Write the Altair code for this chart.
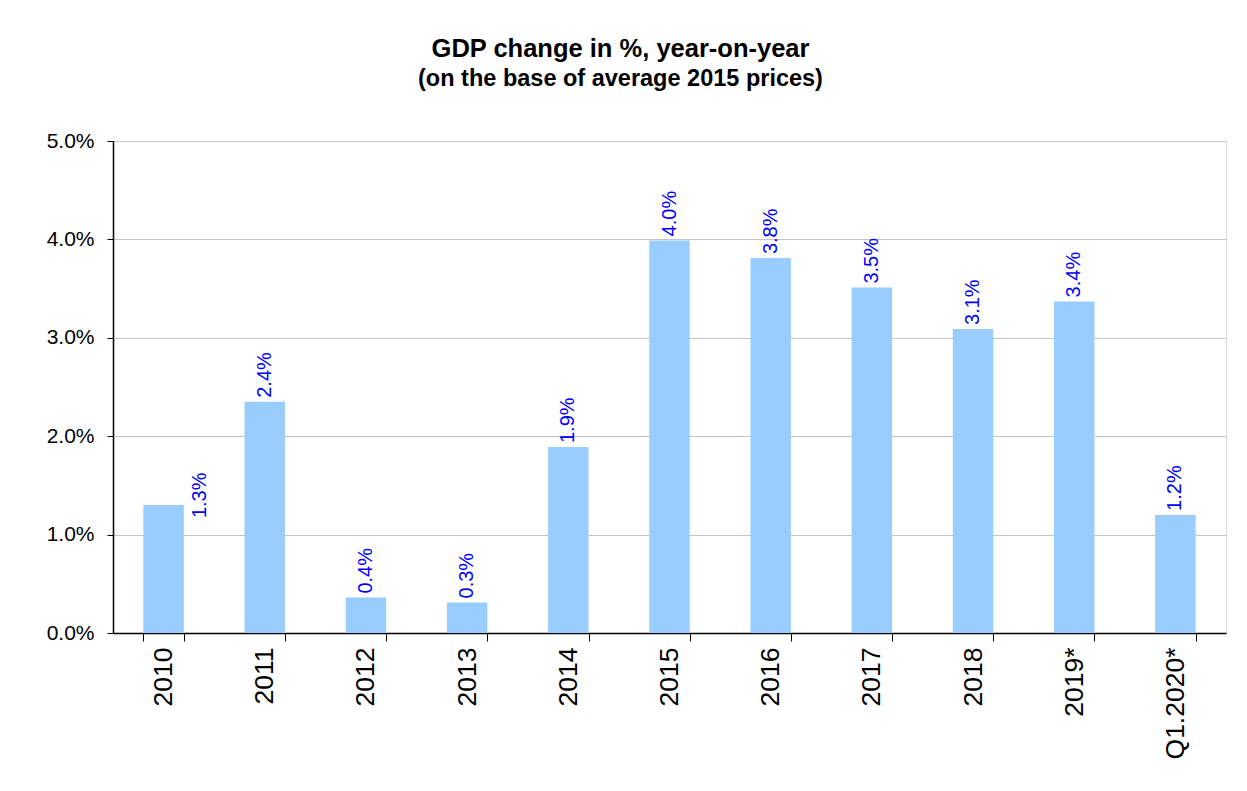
import altair as alt
import pandas as pd

categories = ["2010", "2011", "2012", "2013", "2014", "2015", "2016", "2017", "2018", "2019*", "Q1.2020*"]
values = [1.3, 2.35, 0.36, 0.31, 1.89, 3.99, 3.81, 3.51, 3.09, 3.37, 1.2]
labels = ["1.3%", "2.4%", "0.4%", "0.3%", "1.9%", "4.0%", "3.8%", "3.5%", "3.1%", "3.4%", "1.2%"]
y_ticks = [0, 0.01, 0.02, 0.03, 0.04, 0.05]

df = pd.DataFrame({
    "cat": categories,
    "val": [v / 100 for v in values],
    "label": labels,
})

FONT = "Liberation Sans"

x_enc = alt.X(
    "cat:N",
    sort=categories,
    scale=alt.Scale(paddingInner=0.6, paddingOuter=0.3),
    axis=alt.Axis(
        title=None,
        labelAngle=270,
        labelFontSize=26.5,
        labelFont=FONT,
        labelColor="black",
        labelPadding=6,
        tickBand="extent",
        tickSize=8,
        tickColor="black",
        domainColor="black",
        domainWidth=1.5,
        grid=False,
    ),
)
y_enc = alt.Y(
    "val:Q",
    scale=alt.Scale(domain=[0, 0.05], nice=False),
    axis=alt.Axis(
        title=None,
        values=y_ticks,
        format=".1%",
        labelFontSize=21,
        labelFont=FONT,
        labelColor="black",
        labelPadding=13,
        tickSize=6,
        tickColor="black",
        domainColor="black",
        domainWidth=1.5,
        gridColor="#c4c4c4",
        gridWidth=1,
    ),
)

base = alt.Chart(df)

bars = base.mark_bar(color="#99CCFF").encode(x=x_enc, y=y_enc)

text_main = base.transform_filter("datum.cat != '2010'").mark_text(
    angle=270, align="left", baseline="middle", dx=4,
    fontSize=20, font=FONT, color="#0000FF",
).encode(x=x_enc, y=y_enc, text="label:N")

text_2010 = base.transform_filter("datum.cat == '2010'").mark_text(
    angle=270, align="left", baseline="middle", dx=-13, dy=36,
    fontSize=20, font=FONT, color="#0000FF",
).encode(x=x_enc, y=y_enc, text="label:N")

chart = alt.layer(bars, text_main, text_2010).properties(
    width=1113,
    height=492,
    title=alt.TitleParams(
        text="GDP change in %, year-on-year",
        subtitle="(on the base of average 2015 prices)",
        font=FONT,
        fontSize=25.5,
        fontWeight="bold",
        color="black",
        subtitleFont=FONT,
        subtitleFontSize=23.5,
        subtitleFontWeight="bold",
        subtitleColor="black",
        subtitlePadding=4,
        anchor="middle",
        dx=-49,
        offset=40,
    ),
    autosize=alt.AutoSizeParams(type="none"),
    padding={"left": 105, "top": 133, "right": 10, "bottom": 140},
).configure_view(
    stroke="#b0b0b0", strokeWidth=1.5
).configure(background="white")

chart.save("out.html", embed_options={"renderer": "svg", "actions": False})
